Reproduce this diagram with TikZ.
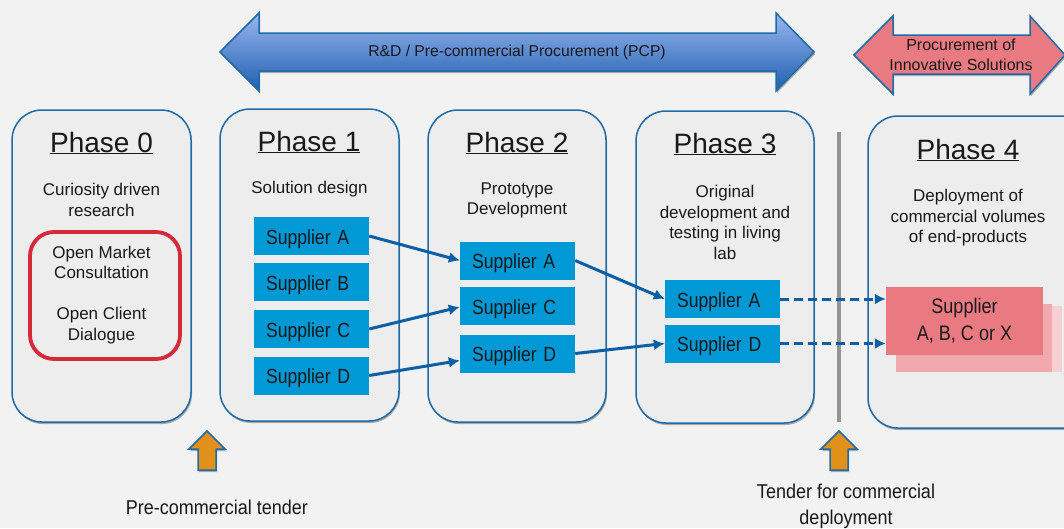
\documentclass[tikz,border=0pt]{standalone}
\usepackage{fontspec}
\setmainfont{Liberation Sans}
\newfontfamily\narrowf[FakeStretch=0.86]{Liberation Sans}
\newfontfamily\narrowg[FakeStretch=0.9]{Liberation Sans}
\usetikzlibrary{shadows,arrows.meta,positioning}
\definecolor{bgc}{HTML}{F2F2F2}
\definecolor{boxc}{HTML}{EDEDED}
\definecolor{linec}{HTML}{1F6BA8}
\definecolor{supc}{HTML}{0099D5}
\definecolor{conc}{HTML}{0B5FA5}
\definecolor{pinkc}{HTML}{E97A82}
\definecolor{orangec}{HTML}{E1901A}
\definecolor{redc}{HTML}{D42A3A}
\definecolor{toparrow}{HTML}{9AB6F0}
\definecolor{midarrow}{HTML}{86A6E6}
\definecolor{botarrow}{HTML}{1F5FAE}
\tikzset{
  phasebox/.style={draw=linec,line width=1.5pt,fill=boxc,rounded corners=30pt,
    drop shadow={shadow xshift=1pt,shadow yshift=-2pt,opacity=.3,fill=black}},
  supplier/.style={fill=supc,minimum width=115pt,minimum height=38pt,inner ysep=0pt,inner xsep=12pt,
    text width=91pt,align=left,text height=16pt,text depth=0pt,
    font=\narrowf\fontsize{20.5}{22}\selectfont,text=black!90},
  title/.style={font=\fontsize{28}{32}\selectfont,text=black!90},
  desc/.style={align=center,font=\fontsize{17}{20.5}\selectfont,text=black!90},
  tender/.style={align=center,font=\narrowg\fontsize{20}{26}\selectfont,text=black!90},
  con/.style={draw=conc,line width=3pt,-{Latex[length=11pt,width=11pt]}},
  condash/.style={con,dash pattern=on 9pt off 5pt},
  bigarrow/.style={draw=linec,line width=1.5pt,line join=miter,
    drop shadow={shadow xshift=1pt,shadow yshift=-2pt,opacity=.3,fill=black}},
  upshape/.style={draw=linec,line width=1.5pt,fill=orangec,
    drop shadow={shadow xshift=1pt,shadow yshift=-2pt,opacity=.3,fill=black}},
}
\begin{document}
\begin{tikzpicture}[x=1pt,y=-1pt]
\path[use as bounding box,fill=bgc] (0,0) rectangle (1064,528);
\begin{scope}
\clip (0,0) rectangle (1064,528);
% big arrows
\path[bigarrow,top color=toparrow,middle color=midarrow,bottom color=botarrow]
  (220,52) -- (259,13) -- (259,33) -- (776,33) -- (776,13) -- (814,52) -- (776,91) -- (776,71) -- (259,71) -- (259,91) -- cycle;
\node[text=black!90] (pcp) at (517,52) {\fontsize{15.7}{18}\selectfont R\&D / Pre-commercial Procurement (PCP)};
\path[bigarrow,fill=pinkc]
  (854,55) -- (893,16) -- (893,35) -- (1030,35) -- (1030,16) -- (1065,55) -- (1030,94) -- (1030,74) -- (893,74) -- (893,94) -- cycle;
\node[align=center,text=black!90,font=\fontsize{16}{20.5}\selectfont] (pis) at (961,55) {Procurement of\\Innovative Solutions};
% phase boxes
\path[phasebox] (12,110) rectangle (191,422);
\path[phasebox] (220,109) rectangle (399,421);
\path[phasebox] (428,110) rectangle (606,422);
\path[phasebox] (636,111) rectangle (814,423);
\path[phasebox] (868,116) rectangle (1094,428);
% titles
\node[title] (t0) at (101.5,143) {\underline{Phase 0}};
\node[title] (t1) at (309,142) {\underline{Phase 1}};
\node[title] (t2) at (517,143) {\underline{Phase 2}};
\node[title] (t3) at (725,144) {\underline{Phase 3}};
\node[title] (t4) at (968,150) {\underline{Phase 4}};
% descriptions
\node[desc] (d0) at (101.5,200) {Curiosity driven\\research};
\node[desc] (d1) at (309.5,189) {Solution design};
\node[desc] (d2) at (517,200.5) {Prototype\\Development};
\node[desc] (d3) at (725,222.5) {Original\\development and\\testing in living\\lab};
\node[desc] (d4) at (968,218) {Deployment of\\commercial volumes\\of end-products};
% red rounded box
\draw[redc,line width=3.8pt,rounded corners=24pt] (30,232) rectangle (180,359);
\node[desc] (o1) at (101.5,262.5) {Open Market\\Consultation};
\node[desc] (o2) at (101.5,325.5) {Open Client\\Dialogue};
% suppliers
\node[supplier] (a1) at (311.5,236) {Supplier A};
\node[supplier] (b1) at (311.5,282) {Supplier B};
\node[supplier] (c1) at (311.5,329) {Supplier C};
\node[supplier] (d1s) at (311.5,375.5) {Supplier D};
\node[supplier] (a2) at (517.5,260.5) {Supplier A};
\node[supplier] (c2) at (517.5,306) {Supplier C};
\node[supplier] (d2s) at (517.5,353.5) {Supplier D};
\node[supplier] (a3) at (722.5,299) {Supplier A};
\node[supplier] (d3s) at (722.5,343.5) {Supplier D};
% pink stack
\fill[pinkc!35!white] (901,306) rectangle (1062,372);
\fill[pinkc!65!white] (896,304) rectangle (1052,372);
\node[fill=pinkc,minimum width=157pt,minimum height=68pt,inner sep=0pt,align=center,
  font=\narrowf\fontsize{21}{27}\selectfont,text=black!90] (sx) at (964.5,321) {\raisebox{-1.5pt}{Supplier}\\\raisebox{-1.5pt}{A, B, C or X}};
% connectors
\draw[con] (a1.east) -- (a2.west);
\draw[con] (c1.east) -- ([yshift=-1pt]c2.west);
\draw[con] (d1s.east) -- ([yshift=-7pt]d2s.west);
\draw[con] (a2.east) -- (a3.west);
\draw[con] (d2s.east) -- (d3s.west);
% separator
\coordinate (sepT) at (839,132);
\coordinate (sepB) at (839,422);
\draw[black!42,line width=3.6pt] (sepT) -- (sepB);
\draw[condash] (a3.east) -- (sx.west |- a3.east);
\draw[condash] (d3s.east) -- (sx.west |- d3s.east);
% up arrows
\path[upshape] (207,431) -- (225,449) -- (216,449) -- (216,470) -- (198,470) -- (198,449) -- (189,449) -- cycle;
\path[upshape] (839,431) -- (857,449) -- (848,449) -- (848,470) -- (830,470) -- (830,449) -- (821,449) -- cycle;
% tender labels
\node[tender] (tp) at (217,507) {Pre-commercial tender};
\node[tender] (tc) at (846,506) {Tender for commercial\\deployment};
\end{scope}
\end{tikzpicture}
\end{document}
